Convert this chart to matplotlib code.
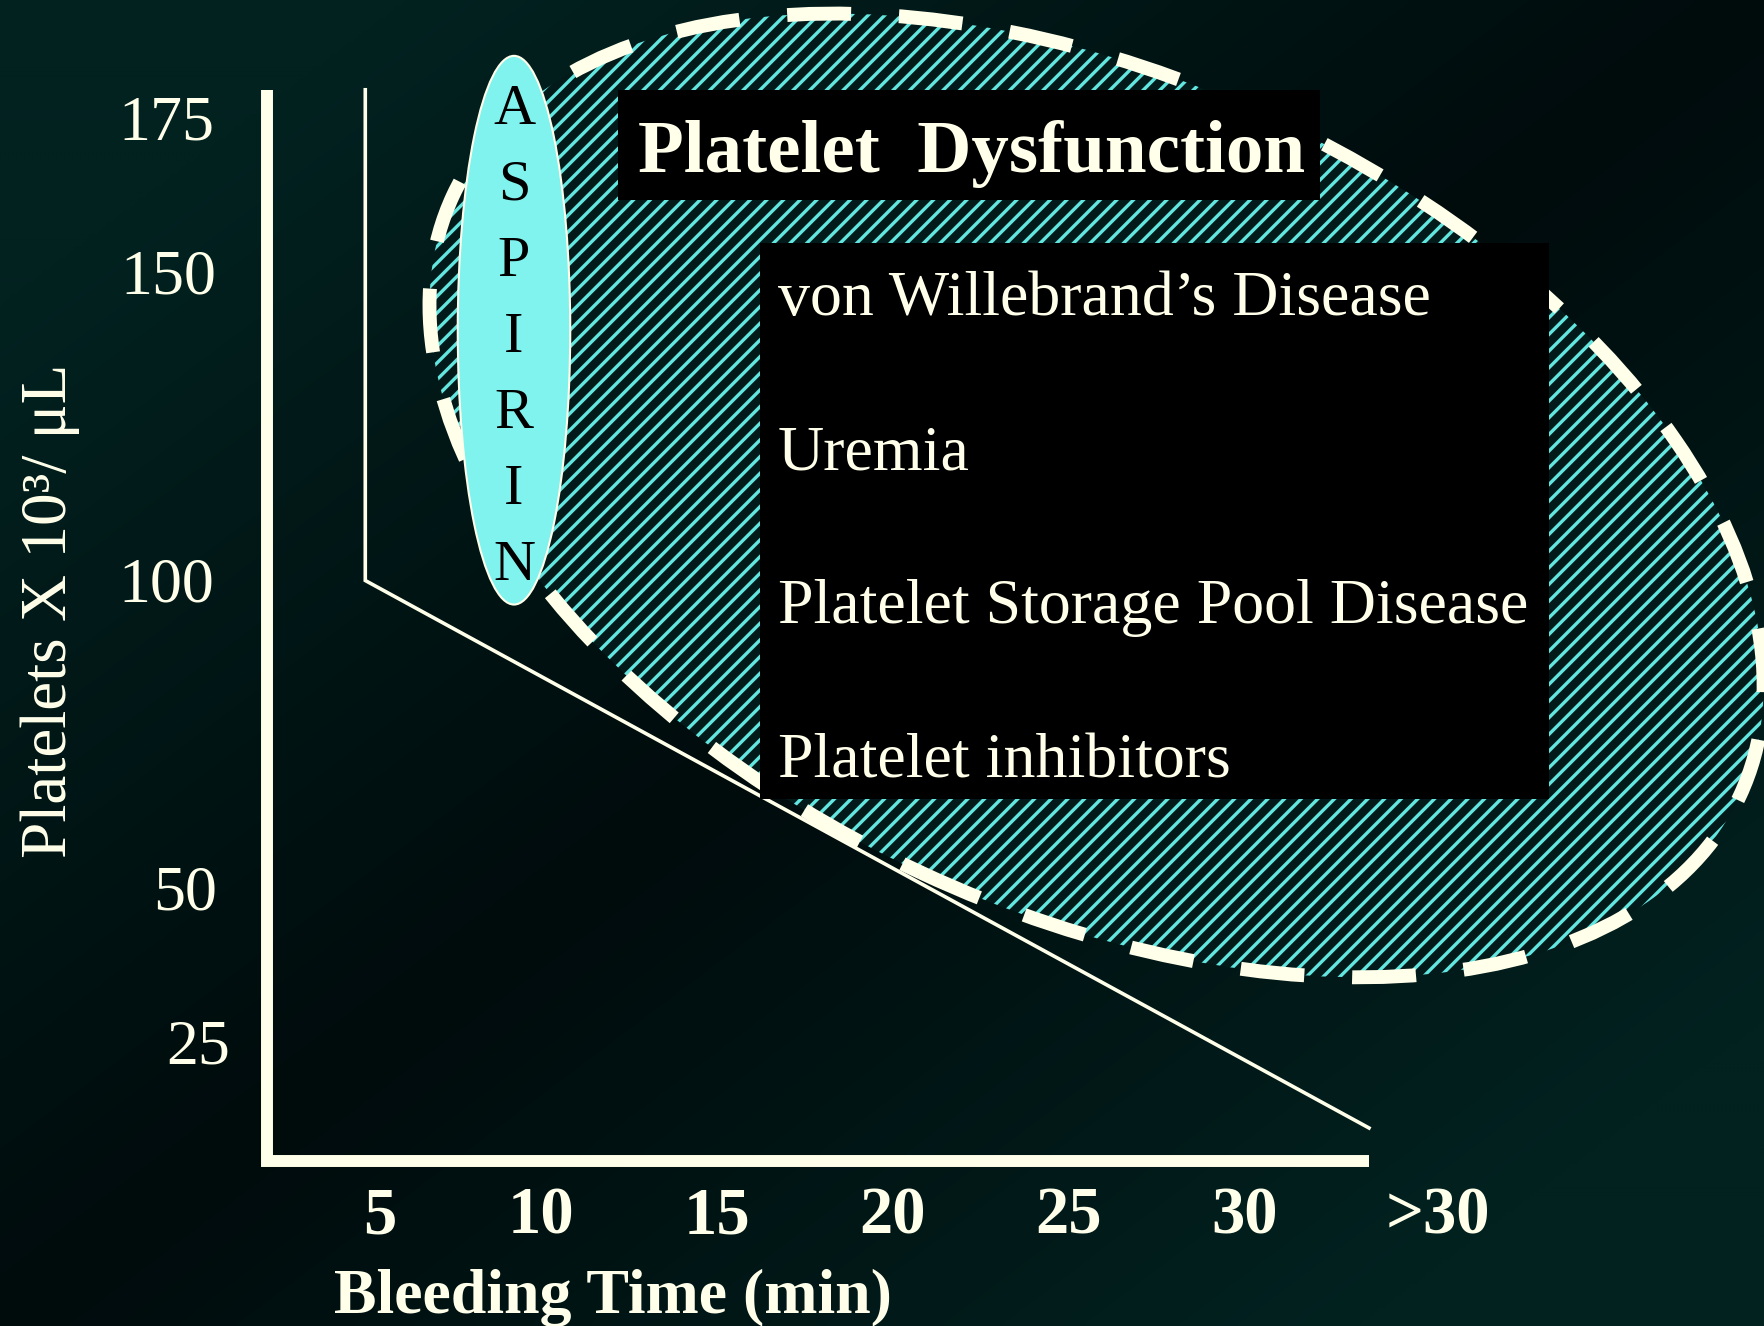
import numpy as np
import matplotlib
matplotlib.use('Agg')
import matplotlib.pyplot as plt
import matplotlib.transforms as mtransforms
from matplotlib.patches import Ellipse, Rectangle

plt.rcParams['font.family'] = ['Liberation Serif', 'DejaVu Serif']
plt.rcParams['hatch.linewidth'] = 2.4

# bleeding time (min) against platelet count (x10^3/uL)
x_ticks = [5, 10, 15, 20, 25, 30, 35.5]
x_tick_labels = ['5', '10', '15', '20', '25', '30', '>30']
y_ticks = [175, 150, 100, 50, 25]
y_tick_labels = ['175', '150', '100', '50', '25']

# frame of the plot
axis_time = [2.2, 2.2, 33.55]
axis_platelets = [179.6, 5.8, 5.8]

# expected bleeding time: normal above 100k, longer as count drops
threshold_time = [5, 5, 33.55]
threshold_platelets = [179.6, 100, 11.2]

# aspirin zone: centre and extent in the same units
aspirin_time, aspirin_platelets = 9.23, 140.6
aspirin_width, aspirin_height = 3.2, 89.0
aspirin_text = 'ASPIRIN'

# platelet dysfunction zone
zone_time, zone_platelets = 25.8, 113.8

title = 'Platelet  Dysfunction'
disorders = ['von Willebrand\u2019s Disease', 'Uremia',
             'Platelet Storage Pool Disease', 'Platelet inhibitors']

cream = '#FFFFEA'
cyan = '#63E6E0'

W, H = 1764, 1326
fig = plt.figure(figsize=(W / 100, H / 100), dpi=100)
ax = fig.add_axes([0, 0, 1, 1])

# diagonal background: teal in two corners, near black along the other diagonal
u, v = np.meshgrid(np.linspace(0, 1, 441), np.linspace(0, 1, 331))
s = np.clip(np.abs(u + v - 1) * 1.3, 0, 1)
dark = np.array([0, 11, 12]) / 255
light = np.array([2, 34, 32]) / 255
bg = dark + (light - dark) * s[..., None]
ax.imshow(bg, extent=(0, 1, 0, 1), transform=ax.transAxes, origin='upper',
          aspect='auto', interpolation='bilinear', zorder=0)

ax.set_xlim(-5.39, 44.785)
ax.set_ylim(-20.92, 194.16)
ax.axis('off')

# pixel positions measured from the top left corner
px = mtransforms.Affine2D().scale(1 / W, -1 / H).translate(0, 1) + fig.transFigure
xtick_tr = mtransforms.blended_transform_factory(ax.transData, px)
ytick_tr = mtransforms.blended_transform_factory(px, ax.transData)

# hatched dysfunction zone with a dashed outline
cx, cy = ax.transData.transform((zone_time, zone_platelets))
ident = mtransforms.IdentityTransform()
ax.add_patch(Ellipse((cx, cy), 2 * 710, 2 * 416, angle=-25.0, transform=ident,
                     facecolor='#021a1a', edgecolor=cyan, linewidth=0,
                     hatch='//', zorder=2))
ax.add_patch(Ellipse((cx, cy), 2 * 710, 2 * 416, angle=-25.0, transform=ident,
                     fill=False, edgecolor=cream, linewidth=10,
                     linestyle=(0, (4.6, 3.45)), zorder=3))

# axes frame and threshold line
ax.plot(axis_time, axis_platelets, color=cream, linewidth=8.6,
        solid_joinstyle='miter', solid_capstyle='butt', zorder=5)
ax.plot(threshold_time, threshold_platelets, color=cream, linewidth=2.6,
        solid_joinstyle='miter', zorder=5)

# aspirin
ax.add_patch(Ellipse((aspirin_time, aspirin_platelets), aspirin_width, aspirin_height,
                     facecolor='#80F3EE', edgecolor=cream, linewidth=1.5, zorder=6))
for i, ch in enumerate(aspirin_text):
    ax.text(514, 124 + 76 * i, ch, transform=px, ha='center', va='baseline',
            fontsize=42, color='black', zorder=7)

# title box
ax.add_patch(Rectangle((618, 90), 702, 110, transform=px, facecolor='black',
                       edgecolor='none', zorder=6))
ax.text(638, 172, title, transform=px, ha='left', va='baseline', fontsize=54,
        fontweight='bold', color=cream, zorder=7)

# list of disorders
ax.add_patch(Rectangle((760, 243), 789, 556, transform=px, facecolor='black',
                       edgecolor='none', zorder=6))
for i, name in enumerate(disorders):
    ax.text(778, 315 + 154 * i, name, transform=px, ha='left', va='baseline',
            fontsize=46, color=cream, zorder=7)

# tick labels
x_nudge = [15, 0, 0, 0, 0, 0, 0]
for t, lab, dx in zip(x_ticks, x_tick_labels, x_nudge):
    tr = mtransforms.offset_copy(xtick_tr, fig, x=dx, y=0, units='dots')
    ax.text(t, 1233, lab, transform=tr, ha='center', va='baseline',
            fontsize=48, fontweight='bold', color=cream, zorder=7)

y_nudge = [0, 2, 0, 3, 16]
for p, lab, dx in zip(y_ticks, y_tick_labels, y_nudge):
    tr = mtransforms.offset_copy(ytick_tr, fig, x=dx, y=-21, units='dots')
    ax.text(214, p, lab, transform=tr, ha='right', va='baseline',
            fontsize=46, color=cream, zorder=7)

ax.text(334, 1313, 'Bleeding Time (min)', transform=px, ha='left', va='baseline',
        fontsize=46, fontweight='bold', color=cream, zorder=7)
ax.text(50, 611, 'Platelets X 10\u00b3/ \u03bcL', transform=px, rotation=90,
        ha='center', va='center', fontsize=47, color=cream, zorder=7)

fig.savefig('out.png', dpi=100)
